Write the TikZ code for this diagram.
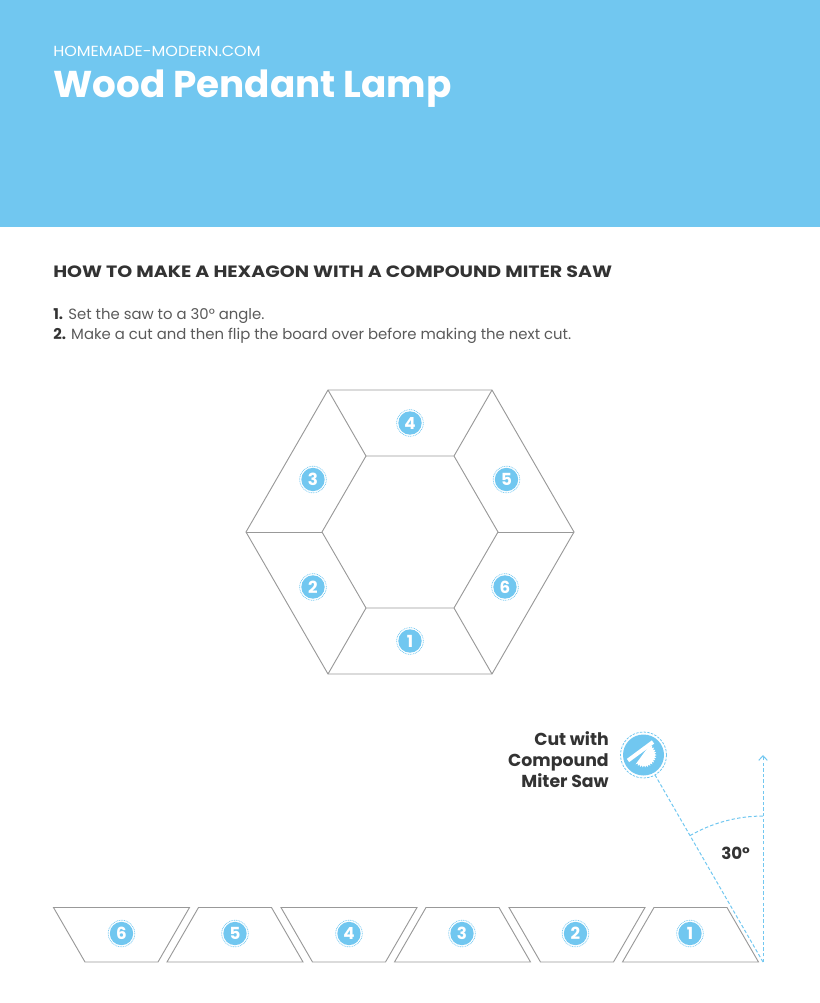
\documentclass[tikz,border=0pt]{standalone}
\usepackage{xcolor}
\usepackage{fontspec}
\setmainfont{Poppins}
\newfontfamily\widefont[FakeStretch=1.16]{Poppins}
\newfontfamily\sitefont[FakeStretch=1.09]{Poppins}
\usetikzlibrary{arrows.meta,calc}

\definecolor{sky}{HTML}{71C7F0}
\definecolor{ink}{HTML}{333333}
\definecolor{body}{HTML}{5A5A5A}
\definecolor{edge}{HTML}{999999}

\tikzset{
    x=0.75pt, y=-0.75pt,
    piece/.style={draw=edge, line width=0.7pt, line join=miter},
    cutline/.style={draw=sky, line width=0.75pt, dash pattern=on 2.6pt off 1.6pt},
    ring/.style={circle, draw=sky, line width=0.5pt, dash pattern=on 0.7pt off 0.6pt, minimum size=20pt, inner sep=0pt},
    badge/.style={circle, fill=sky, text=white, font=\fontsize{12.5}{12.5}\bfseries, minimum size=17.5pt, inner sep=0pt, label={[ring]center:{}}},
    txt/.style={anchor=base west, inner sep=0pt},
}

\begin{document}
\begin{tikzpicture}

    \useasboundingbox (0,0) rectangle (820,1003);
    \fill[sky] (0,0) rectangle (820,227);

    \node[txt, text=white, font=\fontsize{11}{11}\sitefont] (site) at (53,56) {HOMEMADE-MODERN.COM};
    \node[txt, text=white, font=\fontsize{28}{28}\bfseries] (title) at (53,97.5) {Wood Pendant Lamp};
    \node[txt, text=ink, font=\fontsize{12.3}{12.3}\widefont\bfseries] (head) at (53,277) {HOW TO MAKE A HEXAGON WITH A COMPOUND MITER SAW};
    \node[txt, text=body, font=\fontsize{11.15}{11.15}\selectfont] (s1) at (53,319) {\textcolor{ink}{\bfseries 1.} Set the saw to a 30° angle.};
    \node[txt, text=body, font=\fontsize{11.15}{11.15}\selectfont] (s2) at (53,339) {\textcolor{ink}{\bfseries 2.} Make a cut and then flip the board over before making the next cut.};

    \coordinate (o1) at (328,390);
    \coordinate (o2) at (492,390);
    \coordinate (o3) at (574,532);
    \coordinate (o4) at (492,674);
    \coordinate (o5) at (328,674);
    \coordinate (o6) at (246,532);
    \coordinate (i1) at (366,456);
    \coordinate (i2) at (454,456);
    \coordinate (i3) at (498,532);
    \coordinate (i4) at (454,608);
    \coordinate (i5) at (366,608);
    \coordinate (i6) at (322,532);

    \draw[piece] (o1) -- (o2) -- (o3) -- (o4) -- (o5) -- (o6) -- cycle;
    \draw[piece] (i1) -- (i2) -- (i3) -- (i4) -- (i5) -- (i6) -- cycle;
    \draw[piece] (o1) -- (i1);
    \draw[piece] (o2) -- (i2);
    \draw[piece] (o3) -- (i3);
    \draw[piece] (o4) -- (i4);
    \draw[piece] (o5) -- (i5);
    \draw[piece] (o6) -- (i6);

    \node[badge] (a4) at (410,423) {4};
    \node[badge] (a3) at (313,479.5) {3};
    \node[badge] (a5) at (506.5,479.5) {5};
    \node[badge] (a2) at (313,587) {2};
    \node[badge] (a6) at (505,587) {6};
    \node[badge] (a1) at (410,641) {1};

    \draw[piece] (53.5,907.5) -- (189.5,907.5) -- (158,962) -- (85,962) -- cycle;
    \draw[piece] (167,962) -- (198.5,907.5) -- (271.5,907.5) -- (303,962) -- cycle;
    \draw[piece] (281,907.5) -- (417,907.5) -- (385.5,962) -- (312.5,962) -- cycle;
    \draw[piece] (394.5,962) -- (426,907.5) -- (499,907.5) -- (530.5,962) -- cycle;
    \draw[piece] (509,907.5) -- (645,907.5) -- (613.5,962) -- (540.5,962) -- cycle;
    \draw[piece] (622.5,962) -- (654,907.5) -- (727,907.5) -- (758.5,962) -- cycle;

    \node[badge] (b6) at (121.5,933.5) {6};
    \node[badge] (b5) at (235,933.5) {5};
    \node[badge] (b4) at (349,933.5) {4};
    \node[badge] (b3) at (462,933.5) {3};
    \node[badge] (b2) at (575.5,933.5) {2};
    \node[badge] (b1) at (690,933.5) {1};

    \node[circle, draw=sky, line width=0.6pt, dash pattern=on 1.8pt off 1pt, minimum size=34.5pt, inner sep=0pt] (saw) at (643.5,755) {};
    \fill[sky] (saw.center) circle (20.5);
    \coordinate (hub) at (644,755);
    \fill[white] ($(hub)+(-60:12.5)$) \foreach \a in {-48,-36,...,132} { -- ($(hub)+(\a-6:10.5)$) -- ($(hub)+(\a:12.5)$) } -- cycle;
    \draw[white, line width=3pt] (628,760.5) -- (653,742);

    \node[anchor=east, align=right, inner sep=0pt, text=ink, font=\fontsize{13}{15.7}\bfseries] (cut) at (609,760) {Cut with\\Compound\\Miter Saw};

    \coordinate (c0) at (763,962);
    \coordinate (c1) at (763,755);
    \coordinate (c2) at (690,835.6);

    \draw[cutline] (c0) -- (saw);
    \draw[cutline, -{Straight Barb[length=3.5pt,width=6.5pt]}] (c0) -- (c1);
    \draw[cutline] (c2) arc[start angle=-120, end angle=-90, radius=146];

    \node[txt, text=ink, font=\fontsize{12.5}{12.5}\bfseries] (deg) at (721,859) {30°};

\end{tikzpicture}
\end{document}
